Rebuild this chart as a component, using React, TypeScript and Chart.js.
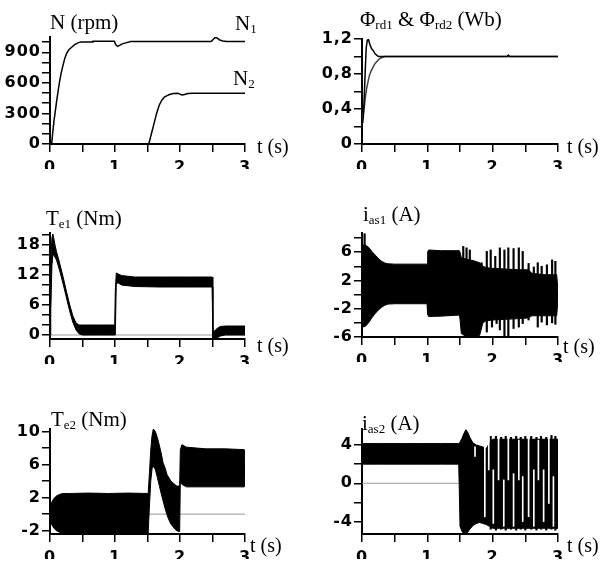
import React, { useEffect, useRef } from 'react';
import { Chart, registerables } from 'chart.js';

Chart.register(...registerables);

// ---------- axis ticks / labels ----------
const T_TICKS = [0, 0.5, 1, 1.5, 2, 2.5, 3];
const T_LABEL_VALS = [0, 1, 2, 3];
const T_LABEL_TEXT = ['0', '1', '2', '3'];

const N_TICKS = [0, 100, 200, 300, 400, 500, 600, 700, 800, 900, 1000];
const N_LABEL_VALS = [0, 300, 600, 900];
const N_LABEL_TEXT = ['0', '300', '600', '900'];

const F_TICKS = [0, 0.2, 0.4, 0.6, 0.8, 1.0, 1.2];
const F_LABEL_VALS = [0, 0.4, 0.8, 1.2];
const F_LABEL_TEXT = ['0', '0,4', '0,8', '1,2'];

const TE1_TICKS = [0, 2, 4, 6, 8, 10, 12, 14, 16, 18, 20];
const TE1_LABEL_VALS = [0, 6, 12, 18];
const TE1_LABEL_TEXT = ['0', '6', '12', '18'];

const IA1_TICKS = [-6, -4, -2, 0, 2, 4, 6, 8];
const IA1_LABEL_VALS = [-6, -2, 2, 6];
const IA1_LABEL_TEXT = ['-6', '-2', '2', '6'];

const TE2_TICKS = [-2, 0, 2, 4, 6, 8, 10];
const TE2_LABEL_VALS = [-2, 2, 6, 10];
const TE2_LABEL_TEXT = ['-2', '2', '6', '10'];

const IA2_TICKS = [-4, -2, 0, 2, 4];
const IA2_LABEL_VALS = [-4, 0, 4];
const IA2_LABEL_TEXT = ['-4', '0', '4'];

// ---------- speed (rpm) ----------
const n1T = [0, 0.025, 0.04, 0.06, 0.077, 0.1, 0.12, 0.144, 0.17, 0.195, 0.225, 0.256, 0.29, 0.333, 0.38, 0.436, 0.48, 0.65, 0.66, 0.99, 1.01, 1.04, 1.07, 1.12, 1.18, 1.24, 2.48, 2.51, 2.54, 2.57, 2.61, 2.66, 2.72, 3.0];
const n1V = [0, 0, 100, 220, 300, 410, 500, 600, 690, 760, 835, 890, 925, 950, 975, 995, 1000, 1000, 1008, 1008, 975, 958, 968, 985, 995, 1005, 1005, 1025, 1045, 1040, 1020, 1010, 1005, 1005];
const n2T = [0, 1.52, 1.56, 1.6, 1.64, 1.68, 1.72, 1.76, 1.8, 1.85, 1.9, 1.97, 2.0, 2.03, 2.07, 2.12, 2.2, 3.0];
const n2V = [0, 0, 100, 200, 300, 380, 430, 460, 475, 488, 495, 497, 490, 480, 485, 495, 497, 497];

// ---------- rotor flux (Wb) ----------
const f1T = [0, 0.01, 0.02, 0.035, 0.05, 0.065, 0.08, 0.097, 0.12, 0.145, 0.17, 0.2, 0.25, 0.3, 2.22, 2.24, 2.26, 3.0];
const f1V = [0.25, 0.27, 0.3, 0.55, 0.85, 1.1, 1.18, 1.2, 1.14, 1.09, 1.07, 1.03, 1.0, 1.0, 1.0, 1.015, 1.0, 1.0];
const f2T = [0, 0.01, 0.02, 0.035, 0.05, 0.07, 0.097, 0.12, 0.15, 0.2, 0.25, 0.28, 0.35, 3.0];
const f2V = [0.25, 0.3, 0.35, 0.42, 0.52, 0.63, 0.73, 0.8, 0.85, 0.92, 0.96, 0.98, 1.0, 1.0];

// ---------- Te1 band (Nm) ----------
const te1T = [0, 0.005, 0.015, 0.03, 0.045, 0.06, 0.08, 0.1, 0.15, 0.2, 0.25, 0.3, 0.35, 0.4, 0.45, 0.5, 0.75, 0.995, 1.005, 1.02, 1.05, 1.1, 1.3, 1.7, 2.1, 2.495, 2.505, 2.53, 2.57, 2.62, 2.7, 2.85, 3.0];
const te1Hi = [0, 7, 14, 19.5, 20.2, 19.2, 17.8, 16.7, 14.3, 11.7, 8.9, 6.2, 3.9, 2.4, 2.0, 2.0, 2.0, 2.0, 9.0, 12.4, 12.2, 11.9, 11.6, 11.6, 11.6, 11.6, 1.0, 0.8, 1.3, 1.7, 1.8, 1.8, 1.8];
const te1Lo = [0, 0, 5, 14, 16, 16, 15.5, 15, 12.8, 10.3, 7.6, 4.9, 2.6, 1.0, 0.2, 0, 0, 0, 0, 10.3, 10.4, 10.0, 9.7, 9.6, 9.6, 9.6, -0.9, -0.9, -0.6, -0.2, 0, 0, 0];

// ---------- Te2 band (Nm) ----------
const te2T = [0, 0.01, 0.03, 0.06, 0.1, 0.15, 0.2, 0.3, 0.6, 0.9, 1.2, 1.5, 1.51, 1.53, 1.55, 1.57, 1.59, 1.62, 1.65, 1.68, 1.71, 1.74, 1.77, 1.8, 1.83, 1.86, 1.89, 1.92, 1.95, 1.98, 1.995, 2.005, 2.03, 2.1, 2.4, 2.7, 2.99, 3.0];
const te2Hi = [0.3, 1.0, 1.5, 1.9, 2.2, 2.4, 2.5, 2.5, 2.55, 2.5, 2.55, 2.5, 2.5, 5.0, 7.8, 9.5, 10.3, 10.0, 9.3, 8.4, 7.4, 6.2, 5.6, 4.8, 4.4, 4.0, 3.8, 3.6, 3.4, 3.4, 3.5, 7.8, 8.4, 8.1, 7.9, 7.9, 7.8, 6.0];
const te2Lo = [-0.3, -0.8, -1.3, -1.7, -2.0, -2.2, -2.3, -2.4, -2.4, -2.4, -2.4, -2.4, -2.3, 1.0, 4.0, 5.5, 5.8, 5.4, 4.5, 3.5, 2.5, 1.6, 0.7, -0.1, -0.7, -1.2, -1.5, -1.8, -2.0, -2.1, -2.1, 4.0, 3.6, 3.3, 3.3, 3.3, 3.3, 4.5];

// ---------- ias1 (A) ----------
const ia1T = [0, 0.05, 0.1, 0.15, 0.2, 0.25, 0.3, 0.35, 0.4, 0.5, 0.7, 0.995, 1.005, 1.02, 1.2, 1.49, 1.5, 1.52, 1.6, 1.7, 1.8, 1.85, 1.9, 2.0, 2.2, 2.4, 2.55, 2.6, 2.8, 2.98, 3.0];
const ia1Hi = [7.0, 7.0, 6.7, 6.1, 5.6, 5.1, 4.7, 4.45, 4.35, 4.3, 4.3, 4.3, 6.0, 6.3, 6.2, 6.2, 6.0, 5.2, 5.0, 4.8, 4.5, 4.0, 3.8, 3.7, 3.6, 3.5, 3.5, 3.0, 2.8, 2.8, 0.5];
const ia1Lo = [-4.6, -4.5, -4.0, -3.3, -2.7, -2.2, -1.8, -1.5, -1.35, -1.3, -1.3, -1.3, -2.8, -3.1, -3.05, -2.9, -3.5, -5.5, -6.0, -6.0, -5.8, -4.0, -3.7, -3.6, -3.5, -3.4, -3.3, -3.0, -3.0, -3.0, -0.5];
const ia1UpT = [0.04, 1.55, 1.6, 1.65, 1.73, 1.83, 1.91, 1.97, 2.04, 2.11, 2.18, 2.24, 2.32, 2.4, 2.46, 2.55, 2.63, 2.69, 2.75, 2.83, 2.91, 2.96];
const ia1UpV = [8.6, 6.8, 6.6, 6.3, 4.4, 4.5, 6.1, 6.3, 5.4, 6.6, 6.3, 6.6, 6.5, 6.6, 6.1, 4.4, 3.9, 4.5, 4.0, 4.2, 4.9, 4.7];
const ia1DnT = [1.91, 1.99, 2.06, 2.11, 2.18, 2.24, 2.32, 2.4, 2.46, 2.55, 2.69, 2.75, 2.83, 2.91, 2.96];
const ia1DnV = [-5.3, -4.6, -4.1, -5.0, -6.0, -6.0, -4.8, -4.6, -4.1, -3.6, -4.6, -3.9, -4.3, -4.0, -4.2];

// ---------- ias2 (A) ----------
const ia2T = [0, 0.3, 0.6, 0.9, 1.2, 1.48, 1.49, 1.5, 1.53, 1.56, 1.59, 1.62, 1.65, 1.7, 1.75, 1.8, 1.85, 1.9, 1.95, 2.0, 2.5, 3.0];
const ia2Hi = [4.15, 4.15, 4.15, 4.15, 4.15, 4.15, 4.2, 4.3, 4.7, 5.2, 5.6, 5.3, 4.8, 4.2, 4.0, 3.9, 3.8, 3.6, 4.2, 4.6, 4.6, 4.6];
const ia2Lo = [2.0, 2.0, 2.0, 2.0, 2.0, 2.0, -1.0, -4.5, -5.0, -5.3, -5.3, -5.1, -4.8, -4.4, -4.2, -4.1, -4.2, -4.3, -4.5, -4.7, -4.7, -4.7];
const ia2UpT = [1.97, 2.05, 2.13, 2.2, 2.28, 2.36, 2.43, 2.5, 2.59, 2.67, 2.74, 2.82, 2.9, 2.96];
const ia2UpV = [4.9, 4.9, 4.8, 4.9, 4.8, 4.9, 4.8, 4.9, 4.9, 4.8, 4.9, 4.8, 5.0, 4.9];
const ia2DnT = [1.97, 2.05, 2.13, 2.2, 2.28, 2.36, 2.43, 2.5, 2.59, 2.67, 2.74, 2.82, 2.9, 2.96];
const ia2DnV = [-4.8, -4.9, -4.8, -4.9, -4.8, -4.9, -4.8, -4.9, -4.8, -4.9, -4.8, -4.9, -4.8, -4.9];
const ia2SlitT = [1.73, 1.88, 1.94, 2.01, 2.09, 2.17, 2.24, 2.32, 2.4, 2.46, 2.55, 2.63, 2.7, 2.78, 2.86, 2.93];
const ia2SlitLo = [2.8, -3.5, 1.4, -4.2, 0.35, -4.5, 0.35, -4.5, 0.35, -4.0, -3.5, -4.5, 0.35, -4.0, -2.1, -4.5];
const ia2SlitHi = [3.8, 3.8, 4.9, 1.4, 4.7, 0.35, 4.9, 1.0, 4.5, 0.7, 4.7, 1.4, 4.5, 1.4, 4.7, 0.7];

// ---------- zero reference line ----------
const zeroT = [0, 3];
const zeroV = [0, 0];

// ---------- helpers ----------
const XH = 25;
const YW = 45;
const TICK_FONT = { family: 'DejaVu Sans', size: 16, weight: 'bold' as const };

const pts = (t: number[], v: number[]) => t.map((x, i) => ({ x, y: v[i] }));

function labelFor(vals: number[], text: string[]) {
  return (v: number) => {
    const i = vals.findIndex((l) => Math.abs(l - v) < 1e-9);
    return i >= 0 ? text[i] : '';
  };
}

const gridOpts = { display: true, drawOnChartArea: false, drawTicks: true, tickLength: 8, color: '#000', lineWidth: 1.5, offset: false };
const borderOpts = { display: true, color: '#000', width: 2 };

function xScale() {
  return {
    type: 'linear', min: 0, max: 3, offset: false,
    afterBuildTicks: (s: any) => { s.ticks = T_TICKS.map((v) => ({ value: v })); },
    afterFit: (s: any) => { s.height = XH; },
    ticks: { autoSkip: false, maxRotation: 0, padding: 6, color: '#000', font: TICK_FONT, callback: labelFor(T_LABEL_VALS, T_LABEL_TEXT) },
    grid: gridOpts,
    border: borderOpts,
  };
}

function yScale(min: number, max: number, ticks: number[], lv: number[], lt: string[]) {
  return {
    type: 'linear', min, max,
    afterBuildTicks: (s: any) => { s.ticks = ticks.map((v) => ({ value: v })); },
    afterFit: (s: any) => { s.width = YW; },
    ticks: { autoSkip: false, padding: 1, color: '#000', font: TICK_FONT, callback: labelFor(lv, lt) },
    grid: gridOpts,
    border: borderOpts,
  };
}

function lineDs(t: number[], v: number[], color = '#000', width = 1.5, order = 2) {
  return { type: 'line', data: pts(t, v), borderColor: color, borderWidth: width, pointRadius: 0, fill: false, tension: 0, order };
}

function bandDs(t: number[], hi: number[], lo: number[]) {
  return [
    { type: 'line', data: pts(t, hi), borderColor: '#000', backgroundColor: '#000', borderWidth: 1, pointRadius: 0, fill: 1, tension: 0, order: 2 },
    { type: 'line', data: pts(t, lo), borderColor: '#000', borderWidth: 1, pointRadius: 0, fill: false, tension: 0, order: 2 },
  ];
}

function barDs(t: number[], lo: number[], hi: number[], color: string, order: number, thickness = 1.5) {
  return {
    type: 'bar', data: t.map((x, i) => ({ x, y: [lo[i], hi[i]] })), backgroundColor: color, borderWidth: 0,
    barThickness: thickness, grouped: false, order,
  };
}

const zeroDs = () => lineDs(zeroT, zeroV, '#9a9a9a', 1, 5);

type Box = { l: number; t: number; w: number; h: number; L: number; R: number; T: number; B: number };

const spacingPlugin = {
  id: 'tickSpacing',
  beforeDraw: (chart: any) => { try { chart.ctx.letterSpacing = '1px'; } catch (e) { /* ignore */ } },
};

function makeConfig(box: Box, datasets: any[], y: any) {
  return {
    type: 'line',
    data: { datasets },
    plugins: [spacingPlugin],
    options: {
      animation: false,
      responsive: false,
      devicePixelRatio: 1,
      layout: { padding: { left: box.L - box.l - YW, right: box.l + box.w - box.R, top: box.T - box.t, bottom: box.t + box.h - box.B - XH } },
      plugins: { legend: { display: false }, tooltip: { enabled: false }, title: { display: false } },
      scales: { x: xScale(), y },
    },
  };
}

const zeros = (n: number) => new Array(n).fill(0);

const PANELS: { box: Box; build: (b: Box) => any }[] = [
  {
    box: { l: 0, t: 0, w: 300, h: 180, L: 50, R: 245, T: 37, B: 144 },
    build: (b) => makeConfig(b, [lineDs(n1T, n1V), lineDs(n2T, n2V)], yScale(0, 1050, N_TICKS, N_LABEL_VALS, N_LABEL_TEXT)),
  },
  {
    box: { l: 300, t: 0, w: 305, h: 180, L: 362, R: 558, T: 39, B: 144 },
    build: (b) => makeConfig(b, [lineDs(f1T, f1V), lineDs(f2T, f2V, '#444')], yScale(0, 1.2, F_TICKS, F_LABEL_VALS, F_LABEL_TEXT)),
  },
  {
    box: { l: 0, t: 180, w: 300, h: 190, L: 50, R: 245, T: 233, B: 339 },
    build: (b) => makeConfig(b, [...bandDs(te1T, te1Hi, te1Lo), zeroDs()], yScale(-0.8, 20.4, TE1_TICKS, TE1_LABEL_VALS, TE1_LABEL_TEXT)),
  },
  {
    box: { l: 300, t: 180, w: 305, h: 190, L: 362, R: 558, T: 233, B: 337 },
    build: (b) => makeConfig(b, [
      ...bandDs(ia1T, ia1Hi, ia1Lo),
      barDs(ia1UpT, zeros(ia1UpT.length), ia1UpV, '#000', 1),
      barDs(ia1DnT, ia1DnV, zeros(ia1DnT.length), '#000', 1),
    ], yScale(-6, 8.7, IA1_TICKS, IA1_LABEL_VALS, IA1_LABEL_TEXT)),
  },
  {
    box: { l: 0, t: 370, w: 300, h: 193, L: 50, R: 245, T: 429, B: 534 },
    build: (b) => makeConfig(b, [...bandDs(te2T, te2Hi, te2Lo), zeroDs()], yScale(-2.4, 10.3, TE2_TICKS, TE2_LABEL_VALS, TE2_LABEL_TEXT)),
  },
  {
    box: { l: 300, t: 370, w: 305, h: 193, L: 362, R: 558, T: 429, B: 534 },
    build: (b) => makeConfig(b, [
      ...bandDs(ia2T, ia2Hi, ia2Lo),
      zeroDs(),
      barDs(ia2UpT, zeros(ia2UpT.length), ia2UpV, '#000', 1),
      barDs(ia2DnT, ia2DnV, zeros(ia2DnT.length), '#000', 1),
      barDs(ia2SlitT, ia2SlitLo, ia2SlitHi, '#fff', 0, 1),
    ], yScale(-5.3, 5.67, IA2_TICKS, IA2_LABEL_VALS, IA2_LABEL_TEXT)),
  },
];

function Panel({ box, build }: { box: Box; build: (b: Box) => any }) {
  const ref = useRef<HTMLCanvasElement | null>(null);
  useEffect(() => {
    if (!ref.current) return;
    const chart = new Chart(ref.current, build(box));
    return () => chart.destroy();
  }, []);
  return (
    <canvas ref={ref} width={box.w} height={box.h}
      style={{ position: 'absolute', left: box.l, top: box.t, width: box.w, height: box.h }} />
  );
}

// ---------- text labels ----------
type Part = { s: string; sub?: boolean };
const TITLES: { x: number; base: number; size: number; parts: Part[] }[] = [
  { x: 50, base: 30, size: 21, parts: [{ s: 'N (rpm)' }] },
  { x: 235, base: 31, size: 21, parts: [{ s: 'N' }, { s: '1', sub: true }] },
  { x: 233, base: 86, size: 21, parts: [{ s: 'N' }, { s: '2', sub: true }] },
  { x: 360, base: 27, size: 21, parts: [{ s: 'Φ' }, { s: 'rd1', sub: true }, { s: ' & Φ' }, { s: 'rd2', sub: true }, { s: ' (Wb)' }] },
  { x: 46, base: 226, size: 21, parts: [{ s: 'T' }, { s: 'e1', sub: true }, { s: ' (Nm)' }] },
  { x: 363, base: 222, size: 21, parts: [{ s: 'i' }, { s: 'as1', sub: true }, { s: ' (A)' }] },
  { x: 51, base: 427, size: 21, parts: [{ s: 'T' }, { s: 'e2', sub: true }, { s: ' (Nm)' }] },
  { x: 362, base: 431, size: 21, parts: [{ s: 'i' }, { s: 'as2', sub: true }, { s: ' (A)' }] },
  { x: 257, base: 153, size: 20, parts: [{ s: 't (s)' }] },
  { x: 567, base: 153, size: 20, parts: [{ s: 't (s)' }] },
  { x: 257, base: 352, size: 20, parts: [{ s: 't (s)' }] },
  { x: 563, base: 353, size: 20, parts: [{ s: 't (s)' }] },
  { x: 250, base: 552, size: 20, parts: [{ s: 't (s)' }] },
  { x: 567, base: 552, size: 20, parts: [{ s: 't (s)' }] },
];

export default function App() {
  return (
    <div style={{ position: 'absolute', left: 0, top: 0, width: 605, height: 563, background: '#fff', overflow: 'hidden' }}>
      {PANELS.map((p, i) => <Panel key={i} box={p.box} build={p.build} />)}
      {TITLES.map((t, i) => (
        <div key={'t' + i} style={{
          position: 'absolute', left: t.x, top: t.base - 0.8375 * t.size,
          fontFamily: '"Liberation Serif", "DejaVu Serif", serif', fontSize: t.size, lineHeight: t.size + 'px',
          whiteSpace: 'nowrap', color: '#000',
        }}>
          {t.parts.map((p, j) => p.sub
            ? <span key={j} style={{ fontSize: Math.round(t.size * 0.62), position: 'relative', top: 3 }}>{p.s}</span>
            : <span key={j}>{p.s}</span>)}
        </div>
      ))}
    </div>
  );
}
